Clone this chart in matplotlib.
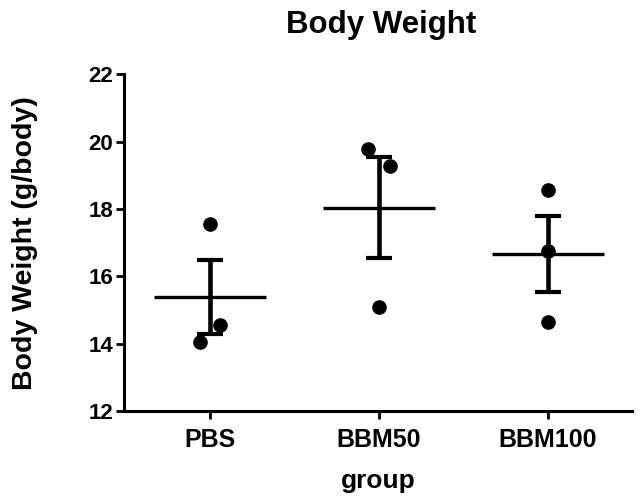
import numpy as np
import matplotlib
matplotlib.use("Agg")
import matplotlib.pyplot as plt

plt.rcParams["font.family"] = ["Liberation Sans", "DejaVu Sans"]
plt.rcParams["font.weight"] = "bold"

groups = ["PBS", "BBM50", "BBM100"]
pbs = [17.57, 14.06, 14.55]
bbm50 = [19.77, 19.28, 15.09]
bbm100 = [18.58, 16.76, 14.65]
jitter = [[0.0, -0.063, 0.059], [-0.063, 0.062, 0.0], [0.0, 0.0, 0.0]]

fig = plt.figure(figsize=(6.4, 4.99), dpi=100)
ax = fig.add_axes([0.194, 0.176, 0.794, 0.675])

for i, vals in enumerate([pbs, bbm50, bbm100]):
    v = np.array(vals)
    m = v.mean()
    sem = v.std(ddof=1) / np.sqrt(len(v))
    ax.plot(i + np.array(jitter[i]), v, "o", color="black", ms=9.5, zorder=3)
    ax.plot([i - 0.333, i + 0.333], [m, m], color="black", lw=2.4, solid_capstyle="butt")
    ax.errorbar(i, m, yerr=sem, fmt="none", ecolor="black", elinewidth=3.3,
                capsize=9.5, capthick=3.0)

ax.set_xlim(-0.51, 2.5)
ax.set_ylim(12, 22)
ax.set_yticks([12, 14, 16, 18, 20, 22])
ax.set_xticks(range(3))
ax.set_xticklabels(groups)
for s in ["top", "right"]:
    ax.spines[s].set_visible(False)
for s in ["left", "bottom"]:
    ax.spines[s].set_linewidth(2.2)
ax.tick_params(axis="both", width=2.0, length=6, color="black")
ax.tick_params(axis="y", labelsize=16, pad=2)
ax.tick_params(axis="x", labelsize=18, pad=6)
ax.set_ylabel("Body Weight (g/body)", fontsize=20.5, fontweight="bold")
ax.yaxis.set_label_coords(-0.169, 0.5)
ax.set_xlabel("group", fontsize=19, fontweight="bold", labelpad=12)
fig.text(0.595, 0.95, "Body Weight", ha="center", va="center", fontsize=22.5, fontweight="bold")

fig.savefig("out.png", dpi=100)
